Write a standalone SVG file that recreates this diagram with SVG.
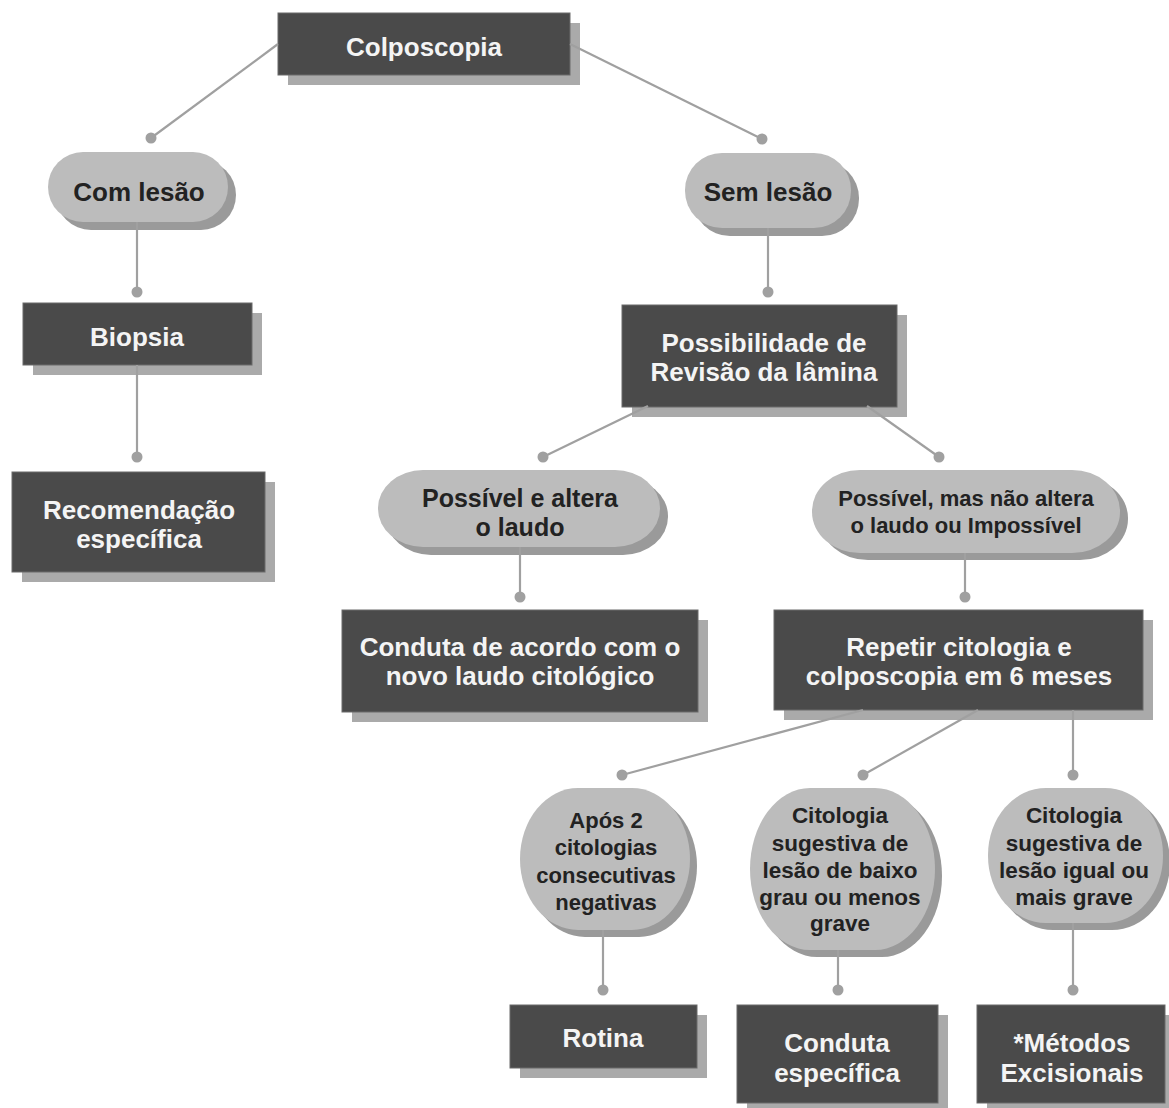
<svg xmlns="http://www.w3.org/2000/svg" width="1169" height="1108" viewBox="0 0 1169 1108">
<style>
.box{fill:#4a4a4a;stroke:#6a6a6a;stroke-width:1}
.bsh{fill:#aaaaaa}
.pill{fill:#bcbcbc}
.psh{fill:#9a9a9a}
.lt{font-family:"Liberation Sans",Arial,sans-serif;font-weight:bold;fill:#f4f4f4;text-anchor:middle;font-size:26px}
.dt{font-family:"Liberation Sans",Arial,sans-serif;font-weight:bold;fill:#222;text-anchor:middle;font-size:26px}
.s25{font-size:25px}
.s22{font-size:22px}
.s23{font-size:22.5px}
.ln{stroke:#a0a0a0;stroke-width:2.2;fill:none}
.dot{fill:#a0a0a0}
</style>
<rect width="1169" height="1108" fill="#ffffff"/>

<g id="n-colposcopia">
<rect class="bsh" x="288" y="23" width="292" height="62"/>
<rect class="box" x="278" y="13" width="292" height="62"/>
<text class="lt" x="424" y="56">Colposcopia</text>
</g>

<g id="n-com-lesao">
<rect class="psh" x="56" y="160" width="180" height="70" rx="35" ry="35"/>
<rect class="pill" x="48" y="152" width="180" height="70" rx="35" ry="35"/>
<text class="dt" x="139" y="201">Com lesão</text>
</g>

<g id="n-sem-lesao">
<rect class="psh" x="693" y="161" width="166" height="75" rx="37" ry="37"/>
<rect class="pill" x="685" y="153" width="166" height="75" rx="37" ry="37"/>
<text class="dt" x="768" y="201">Sem lesão</text>
</g>

<g id="n-biopsia">
<rect class="bsh" x="33" y="313" width="229" height="62"/>
<rect class="box" x="23" y="303" width="229" height="62"/>
<text class="lt" x="137" y="346">Biopsia</text>
</g>

<g id="n-recomendacao">
<rect class="bsh" x="22" y="482" width="253" height="100"/>
<rect class="box" x="12" y="472" width="253" height="100"/>
<text class="lt" x="139" y="519">Recomendação</text>
<text class="lt" x="139" y="548">específica</text>
</g>

<g id="n-possibilidade">
<rect class="bsh" x="632" y="315" width="275" height="102"/>
<rect class="box" x="622" y="305" width="275" height="102"/>
<text class="lt" x="764" y="352">Possibilidade de</text>
<text class="lt" x="764" y="381">Revisão da lâmina</text>
</g>

<g id="n-possivel-altera">
<rect class="psh" x="386" y="478" width="282" height="77" rx="45" ry="38"/>
<rect class="pill" x="378" y="470" width="282" height="77" rx="45" ry="38"/>
<text class="dt s25" x="520" y="507">Possível e altera</text>
<text class="dt s25" x="520" y="536">o laudo</text>
</g>

<g id="n-possivel-nao-altera">
<rect class="psh" x="820" y="477" width="308" height="83" rx="48" ry="41"/>
<rect class="pill" x="812" y="470" width="308" height="83" rx="48" ry="41"/>
<text class="dt s22" x="966" y="506">Possível, mas não altera</text>
<text class="dt s22" x="966" y="533">o laudo ou Impossível</text>
</g>

<g id="n-conduta-acordo">
<rect class="bsh" x="352" y="620" width="356" height="102"/>
<rect class="box" x="342" y="610" width="356" height="102"/>
<text class="lt" x="520" y="656">Conduta de acordo com o</text>
<text class="lt" x="520" y="685">novo laudo citológico</text>
</g>

<g id="n-repetir">
<rect class="bsh" x="784" y="620" width="369" height="100"/>
<rect class="box" x="774" y="610" width="369" height="100"/>
<text class="lt" x="959" y="656">Repetir citologia e</text>
<text class="lt" x="959" y="685">colposcopia em 6 meses</text>
</g>

<g id="n-apos2">
<rect class="psh" x="527" y="795" width="170" height="142" rx="58" ry="71"/>
<rect class="pill" x="520" y="788" width="170" height="142" rx="58" ry="71"/>
<text class="dt s22" x="606" y="828">Após 2</text>
<text class="dt s22" x="606" y="855">citologias</text>
<text class="dt s22" x="606" y="883">consecutivas</text>
<text class="dt s22" x="606" y="910">negativas</text>
</g>

<g id="n-citologia-baixo">
<rect class="psh" x="757" y="795" width="185" height="162" rx="60" ry="81"/>
<rect class="pill" x="750" y="788" width="185" height="162" rx="60" ry="81"/>
<text class="dt s23" x="840" y="823">Citologia</text>
<text class="dt s23" x="840" y="851">sugestiva de</text>
<text class="dt s23" x="840" y="878">lesão de baixo</text>
<text class="dt s23" x="840" y="905">grau ou menos</text>
<text class="dt s23" x="840" y="931">grave</text>
</g>

<g id="n-citologia-igual">
<rect class="psh" x="995" y="795" width="175" height="135" rx="58" ry="67"/>
<rect class="pill" x="988" y="788" width="175" height="135" rx="58" ry="67"/>
<text class="dt s23" x="1074" y="823">Citologia</text>
<text class="dt s23" x="1074" y="851">sugestiva de</text>
<text class="dt s23" x="1074" y="878">lesão igual ou</text>
<text class="dt s23" x="1074" y="905">mais grave</text>
</g>

<g id="n-rotina">
<rect class="bsh" x="520" y="1015" width="187" height="63"/>
<rect class="box" x="510" y="1005" width="187" height="63"/>
<text class="lt" x="603" y="1047">Rotina</text>
</g>

<g id="n-conduta-especifica">
<rect class="bsh" x="747" y="1015" width="201" height="98"/>
<rect class="box" x="737" y="1005" width="201" height="98"/>
<text class="lt" x="837" y="1052">Conduta</text>
<text class="lt" x="837" y="1082">específica</text>
</g>

<g id="n-metodos">
<rect class="bsh" x="987" y="1015" width="188" height="98"/>
<rect class="box" x="977" y="1005" width="188" height="98"/>
<text class="lt" x="1072" y="1052">*Métodos</text>
<text class="lt" x="1072" y="1082">Excisionais</text>
</g>

<g id="connectors">
<path class="ln" d="M278 44 L151 138"/>
<path class="ln" d="M570 44 L762 139"/>
<path class="ln" d="M137 222 V292"/>
<path class="ln" d="M768 228 V292"/>
<path class="ln" d="M137 365 V457"/>
<path class="ln" d="M648 406 L543 457"/>
<path class="ln" d="M867 406 L939 457"/>
<path class="ln" d="M520 547 V597"/>
<path class="ln" d="M965 553 V597"/>
<path class="ln" d="M863 710 L622 775"/>
<path class="ln" d="M978 710 L863 775"/>
<path class="ln" d="M1073 710 V775"/>
<path class="ln" d="M603 930 V990"/>
<path class="ln" d="M838 950 V990"/>
<path class="ln" d="M1073 923 V990"/>
<circle class="dot" cx="151" cy="138" r="5.5"/>
<circle class="dot" cx="762" cy="139" r="5.5"/>
<circle class="dot" cx="137" cy="292" r="5.5"/>
<circle class="dot" cx="768" cy="292" r="5.5"/>
<circle class="dot" cx="137" cy="457" r="5.5"/>
<circle class="dot" cx="543" cy="457" r="5.5"/>
<circle class="dot" cx="939" cy="457" r="5.5"/>
<circle class="dot" cx="520" cy="597" r="5.5"/>
<circle class="dot" cx="965" cy="597" r="5.5"/>
<circle class="dot" cx="622" cy="775" r="5.5"/>
<circle class="dot" cx="863" cy="775" r="5.5"/>
<circle class="dot" cx="1073" cy="775" r="5.5"/>
<circle class="dot" cx="603" cy="990" r="5.5"/>
<circle class="dot" cx="838" cy="990" r="5.5"/>
<circle class="dot" cx="1073" cy="990" r="5.5"/>
</g>
</svg>
